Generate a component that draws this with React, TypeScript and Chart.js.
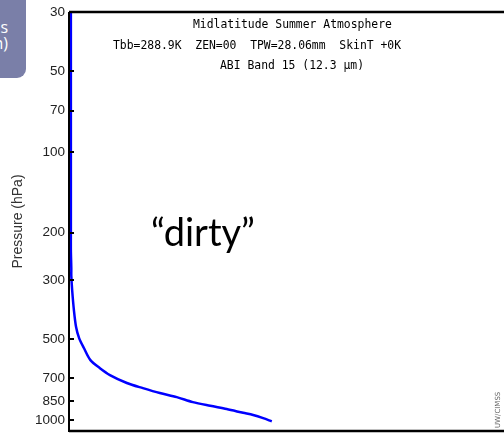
import React, { useEffect, useRef } from "react";
import { Chart, registerables } from "chart.js";

Chart.register(...registerables);

const pressureLevels = [30, 100, 200, 232, 271, 290, 328, 389, 450, 495, 539, 598, 641, 680, 728, 761, 794, 822, 858, 886, 911, 941, 959, 985, 1013];
const weights = [0.002, 0.002, 0.002, 0.002, 0.003, 0.003, 0.005, 0.009, 0.014, 0.021, 0.032, 0.047, 0.069, 0.092, 0.131, 0.168, 0.207, 0.246, 0.283, 0.323, 0.361, 0.399, 0.422, 0.445, 0.465];
const yTicks = [30, 50, 70, 100, 200, 300, 500, 700, 850, 1000];
const titleLines = [
  "Midlatitude Summer Atmosphere",
  "Tbb=288.9K  ZEN=00  TPW=28.06mm  SkinT +0K",
  "ABI Band 15 (12.3 \u00b5m)",
];
const annotationText = "\u201cdirty\u201d";
const creditText = "UW/CIMSS";
const yTitle = "Pressure (hPa)";
const sideLines = ["Weighting Functions", "(12.3 \u00b5m)"];

const framePlugin = {
  id: "frame",
  afterDraw(chart: any) {
    const { ctx, chartArea } = chart;
    const y = chart.scales.y;
    ctx.save();
    ctx.strokeStyle = "#000";
    ctx.lineWidth = 2.5;
    ctx.beginPath();
    ctx.moveTo(chartArea.left - 1, chartArea.top);
    ctx.lineTo(chart.width, chartArea.top);
    ctx.moveTo(chartArea.left - 1, chartArea.bottom);
    ctx.lineTo(chart.width, chartArea.bottom);
    ctx.stroke();
    ctx.lineWidth = 2;
    ctx.beginPath();
    ctx.moveTo(chartArea.left - 1, chartArea.top);
    ctx.lineTo(chartArea.left - 1, chartArea.bottom + 1);
    ctx.stroke();
    ctx.lineWidth = 2;
    ctx.beginPath();
    yTicks.forEach((t) => {
      const py = Math.round(y.getPixelForValue(t));
      ctx.moveTo(chartArea.left - 1, py);
      ctx.lineTo(chartArea.left + 4, py);
    });
    ctx.stroke();

    ctx.fillStyle = "#000";
    ctx.font = "11.4px 'DejaVu Sans Mono'";
    ctx.textBaseline = "middle";
    ctx.textAlign = "left";
    const starts = [193, 113, 220];
    const ys = [25, 46, 66];
    titleLines.forEach((l, i) => ctx.fillText(l, starts[i], ys[i]));

    ctx.font = "38px Lato";
    ctx.textBaseline = "alphabetic";
    ctx.fillText(annotationText, 151, 246);

    ctx.save();
    ctx.translate(502, 428);
    ctx.rotate(-Math.PI / 2);
    ctx.font = "7px 'DejaVu Sans'";
    ctx.fillStyle = "#666";
    ctx.textAlign = "left";
    ctx.textBaseline = "bottom";
    ctx.fillText(creditText, 0, 0);
    ctx.restore();
    ctx.restore();
  },
};

export default function App() {
  const ref = useRef<HTMLCanvasElement | null>(null);
  useEffect(() => {
    if (!ref.current) return;
    const chart = new Chart(ref.current, {
      type: "line",
      data: {
        datasets: [
          {
            data: pressureLevels.map((p, i) => ({ x: weights[i], y: p })),
            borderColor: "#0000ff",
            borderWidth: 2.5,
            pointRadius: 0,
            tension: 0.3,
            fill: false,
          },
        ],
      },
      options: {
        animation: false,
        responsive: false,
        maintainAspectRatio: false,
        layout: { padding: { top: 12, bottom: 2, left: 0, right: 0 } },
        plugins: { legend: { display: false }, tooltip: { enabled: false } },
        scales: {
          x: { type: "linear", min: 0, max: 1, display: false },
          y: {
            type: "logarithmic",
            reverse: true,
            min: 30,
            max: 1100,
            afterBuildTicks: (s: any) => {
              s.ticks = yTicks.map((v) => ({ value: v }));
            },
            afterFit: (s: any) => {
              s.width = 70;
              s.paddingTop = 0;
              s.paddingBottom = 0;
            },
            ticks: {
              callback: (v: any) => String(v),
              color: "#222",
              font: { family: "'Liberation Sans'", size: 13.5 },
              padding: 5,
              autoSkip: false,
            },
            grid: { display: false, drawTicks: false },
            border: { display: false },
            title: {
              display: true,
              text: yTitle,
              color: "#333",
              font: { family: "'Liberation Sans'", size: 14 },
              padding: { top: 10, bottom: 0 },
            },
          },
        },
      },
      plugins: [framePlugin],
    });
    return () => chart.destroy();
  }, []);
  return (
    <div style={{ position: "fixed", left: 0, top: 0, width: 504, height: 433, background: "#fff", overflow: "hidden" }}>
      <canvas ref={ref} width={504} height={433} style={{ display: "block" }} />
      <div
        style={{
          position: "absolute",
          left: -60,
          top: -10,
          width: 86,
          height: 88,
          background: "#7a7fa8",
          borderBottomRightRadius: 9,
          overflow: "hidden",
          color: "#fff",
          fontFamily: "'Open Sans'",
          fontSize: 16,
          lineHeight: "16px",
          textAlign: "right",
        }}
      >
        <div style={{ position: "absolute", right: 18, top: 29, whiteSpace: "nowrap" }}>{sideLines[0]}</div>
        <div style={{ position: "absolute", right: 18, top: 45, whiteSpace: "nowrap" }}>{sideLines[1]}</div>
      </div>
    </div>
  );
}
